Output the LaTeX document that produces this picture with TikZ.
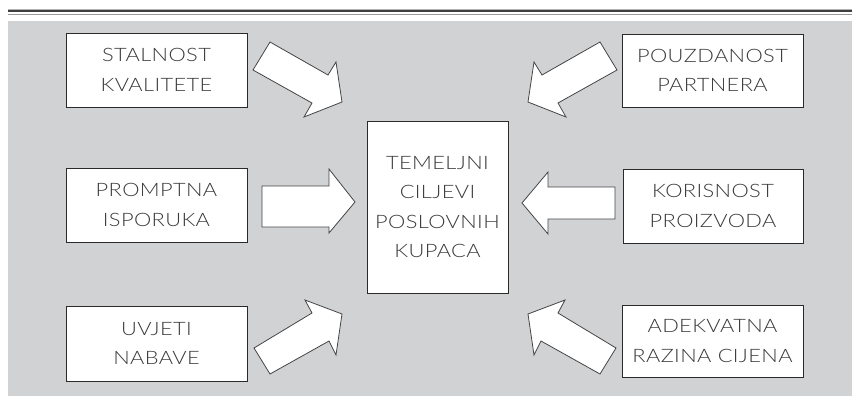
\documentclass[tikz,border=0pt]{standalone}
\usepackage{fontspec}
\setmainfont{Lato}[UprightFont={* Light}, FakeStretch=1.18, LetterSpace=2]
\definecolor{bgc}{HTML}{D1D2D4}
\definecolor{boxc}{HTML}{2A2A2A}
\definecolor{txtc}{HTML}{3A3A3A}
\definecolor{arrc}{HTML}{444444}
\tikzset{
  box/.style={draw=boxc, fill=white, line width=0.9pt, align=center, inner sep=0pt,
    text=txtc, font=\fontsize{18.5}{29.5}\selectfont},
  blockarrow/.style={draw=arrc, fill=white, line width=0.8pt, line join=miter}
}
\begin{document}
\begin{tikzpicture}[x=1pt,y=-1pt]
\useasboundingbox (0,0) rectangle (852,402);
\fill[bgc] (8,21) rectangle (852,396);
\draw[gray!60, line width=0.7pt] (8,9) -- (852,9);
\draw[boxc!90, line width=1.6pt] (8,11) -- (852,11);
\draw[gray!80, line width=1.1pt] (8,14.5) -- (852,14.5);

\node[box, minimum width=181pt, minimum height=74pt] (sk) at (156.5,70) {STALNOST\\KVALITETE};
\node[box, minimum width=181pt, minimum height=73pt] (pp) at (712.5,70.5) {POUZDANOST\\PARTNERA};
\node[box, minimum width=181pt, minimum height=74pt] (pi) at (156.5,205) {PROMPTNA\\ISPORUKA};
\node[box, minimum width=180pt, minimum height=74pt] (kp) at (713,206) {KORISNOST\\PROIZVODA};
\node[box, minimum width=181pt, minimum height=75pt] (un) at (156.5,343.5) {UVJETI\\NABAVE};
\node[box, minimum width=181pt, minimum height=72pt] (ar) at (712.5,341) {ADEKVATNA\\RAZINA CIJENA};
\node[box, minimum width=141pt, minimum height=172pt] (tc) at (437.5,207) {TEMELJNI\\CILJEVI\\POSLOVNIH\\KUPACA};

% top-left arrow
\draw[blockarrow] (270,42) -- (328,75) -- (336,62) -- (342,102) -- (304,117) -- (312,103) -- (253,70) -- cycle;
% top-right arrow
\draw[blockarrow] (600,42) -- (542,75) -- (534,62) -- (528,102) -- (566,117) -- (558,103) -- (617,70) -- cycle;
% middle-left arrow
\draw[blockarrow] (262,186) -- (329,186) -- (329,169) -- (355,202) -- (329,233) -- (329,227) -- (262,227) -- cycle;
% middle-right arrow
\draw[blockarrow] (615,187) -- (548,187) -- (548,172) -- (522,203) -- (548,234) -- (548,219) -- (615,219) -- cycle;
% bottom-left arrow
\draw[blockarrow] (254,348) -- (312,313) -- (305,300) -- (342,314) -- (336,355) -- (329,341) -- (270,374) -- cycle;
% bottom-right arrow
\draw[blockarrow] (616,348) -- (558,313) -- (565,300) -- (528,314) -- (534,355) -- (541,341) -- (600,374) -- cycle;
\end{tikzpicture}
\end{document}
